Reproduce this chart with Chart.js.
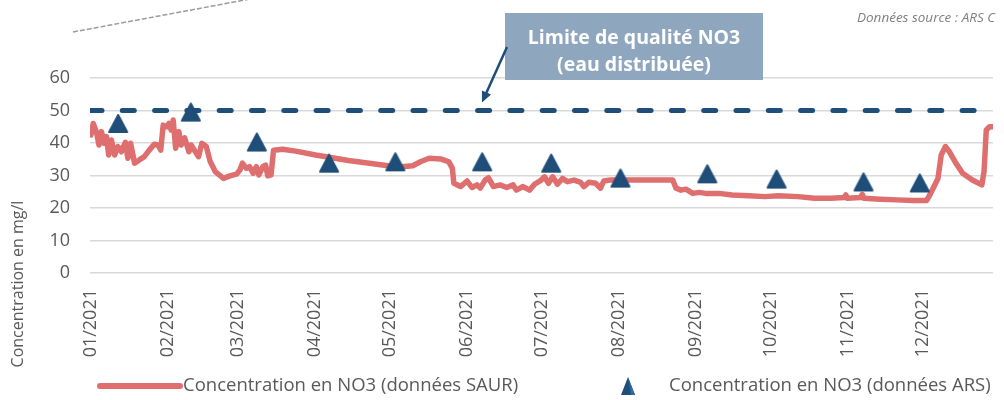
<!DOCTYPE html>
<html lang="fr">
<head>
<meta charset="utf-8">
<title>Concentration en NO3 - 2021</title>
<script src="https://cdn.jsdelivr.net/npm/chart.js@4.4.1/dist/chart.umd.min.js"></script>
<style>
  html, body { margin: 0; padding: 0; background: #fff; }
  #wrap { position: relative; width: 1004px; height: 400px; overflow: hidden; }
</style>
</head>
<body>
<div id="wrap"><canvas id="no3Chart" width="1004" height="400"></canvas></div>
<script>
// x = day of year 2021 (0 = 1st January)
const monthDays = [0, 31, 59, 90, 120, 151, 181, 212, 243, 273, 304, 334];
const monthLabels = ["01/2021", "02/2021", "03/2021", "04/2021", "05/2021", "06/2021",
                     "07/2021", "08/2021", "09/2021", "10/2021", "11/2021", "12/2021"];
const xMin = -0.4;
const xMax = 362.2;
const yMax = 60;
const yStep = 10;

const limitValue = 50;

// SAUR continuous measurements (mg/l)
const saurDays = [0, 0.9, 2.3, 3.2, 4.2, 5.3, 6.2, 7.1, 8.2, 9.5, 10.8, 12.2, 13.8, 14.8, 15.9,
  17.5, 19.4, 21.4, 23.4, 25.4, 27, 28, 29, 30.4, 31.3, 32.2, 33, 34, 35.3, 36.2, 37.6, 39.3,
  40.2, 41.9, 43.2, 44.5, 46.3, 47.9, 49.9, 53.2, 55.8, 58.4, 59.8, 60.8, 62.4, 63.7, 65.1,
  66.4, 67.4, 69, 70.1, 71, 72.3, 73.3, 77, 82.2, 90.2, 103.4, 119.3, 124.6, 129.2, 132.5,
  135.8, 140.4, 143.7, 145.1, 145.7, 148.4, 151, 153, 155, 156.3, 158.3, 159.6, 161.6, 164.2,
  166.9, 169.5, 170.8, 173.5, 176.1, 178.1, 180.8, 182.1, 183.7, 185.4, 187.3, 189.3, 191.3,
  194, 196.6, 197.9, 199.9, 202.6, 204.6, 205.9, 208.5, 233.6, 234.9, 236.9, 238.9, 241.6,
  244.2, 246.8, 252.2, 257.4, 264.1, 270.6, 276, 283.9, 290.5, 297.1, 302.4, 303.1, 303.7,
  309, 309.7, 310.3, 316.9, 323.6, 330.1, 335.5, 336.8, 340.1, 341.4, 343.1, 344.7, 347.3,
  350, 353.9, 357.7, 358.6, 359.5, 360.8, 362.2];
const saurValues = [42.5, 46, 43, 39.4, 43.5, 39.9, 42, 36.3, 40.9, 36.3, 38.9, 37.3, 40.2, 35.3, 39.9,
  33.8, 34.8, 35.8, 37.8, 39.6, 39.4, 37.8, 45.5, 45, 46, 44, 47.1, 38.4, 43.5, 39.4, 41.6, 37.3,
  39.4, 37.3, 35.8, 39.9, 38.9, 34.2, 31.2, 29.1, 29.9, 30.4, 31.7, 33.8, 32.2, 32.7, 30.7,
  32.7, 30.2, 32.7, 33.2, 29.9, 30.2, 37.8, 38.1, 37.5, 36.3, 34.6, 33, 32.7, 33, 34.3,
  35.3, 35.1, 34.2, 32.2, 27.6, 26.6, 28.3, 26.3, 27.1, 26.1, 28.6, 29.3, 26.6, 27.1,
  26.3, 27.1, 25.5, 26.6, 25.5, 27.3, 28.6, 29.6, 27.6, 29.6, 27.3, 29.1, 28.1,
  28.6, 27.9, 26.6, 27.9, 27.6, 26.1, 28.3, 28.6, 28.6, 26.1, 25.5, 25.8, 24.5,
  24.8, 24.5, 24.5, 24, 23.8, 23.5, 23.8, 23.5, 23, 23, 23.2, 24, 23,
  23.2, 24.2, 23, 22.7, 22.5, 22.3, 22.3, 24, 29.1, 36.3, 38.9, 37.3, 33.8,
  30.7, 28.6, 27.1, 31.2, 44, 45, 45];

// ARS samples (mg/l)
const arsDays = [10.9, 40.1, 66.6, 95.6, 122.2, 157.1, 184.8, 212.6, 247.5, 275.3, 310.2, 332.8];
const arsValues = [46, 49.5, 40.3, 33.8, 34.2, 34.2, 33.8, 29.2, 30.5, 28.9, 28.0, 27.7];

const saurColor = "#DF6F6F";
const arsColor = "#1F4E79";
const textColor = "#595959";

// triangle marker, drawn once and used as point style (centred on the value like Excel)
const triangleIcon = document.createElement("canvas");
triangleIcon.width = 22;
triangleIcon.height = 21;
(function () {
    const c = triangleIcon.getContext("2d");
    c.fillStyle = arsColor;
    c.strokeStyle = arsColor;
    c.lineWidth = 2;
    c.lineJoin = "round";
    c.beginPath();
    c.moveTo(11, 2);
    c.lineTo(2, 19);
    c.lineTo(20, 19);
    c.closePath();
    c.fill();
    c.stroke();
})();

const decorations = {
    id: "decorations",
    afterDraw(chart) {
        const ctx = chart.ctx;
        const xs = chart.scales.x;
        const ys = chart.scales.y;
        ctx.save();

        // grey dashed connector, top left
        ctx.strokeStyle = "#9c9c9c";
        ctx.lineWidth = 1.5;
        ctx.setLineDash([5, 2]);
        ctx.beginPath();
        ctx.moveTo(73, 32);
        ctx.lineTo(250, -1);
        ctx.stroke();
        ctx.setLineDash([]);

        // source
        ctx.font = "italic 13.5px 'Open Sans'";
        ctx.fillStyle = "#7f7f7f";
        ctx.textAlign = "left";
        ctx.textBaseline = "middle";
        ctx.fillText("Données source : ARS C", 857, 18);

        // quality limit label
        ctx.fillStyle = "#8EA7BE";
        ctx.fillRect(505, 13, 258, 67);
        ctx.fillStyle = "#ffffff";
        ctx.font = "bold 19.5px 'Open Sans'";
        ctx.textAlign = "center";
        ctx.fillText("Limite de qualité NO3", 634, 38);
        ctx.fillText("(eau distribuée)", 634, 65);

        // arrow pointing at the limit line
        const tipX = xs.getPixelForValue(157);
        const tipY = ys.getPixelForValue(limitValue) - 8;
        const fromX = 507, fromY = 47;
        const ang = Math.atan2(tipY - fromY, tipX - fromX);
        ctx.strokeStyle = arsColor;
        ctx.fillStyle = arsColor;
        ctx.lineWidth = 2.5;
        ctx.beginPath();
        ctx.moveTo(fromX, fromY);
        ctx.lineTo(tipX - Math.cos(ang) * 8, tipY - Math.sin(ang) * 8);
        ctx.stroke();
        ctx.beginPath();
        ctx.moveTo(tipX, tipY);
        ctx.lineTo(tipX - Math.cos(ang) * 11 + Math.sin(ang) * 5, tipY - Math.sin(ang) * 11 - Math.cos(ang) * 5);
        ctx.lineTo(tipX - Math.cos(ang) * 11 - Math.sin(ang) * 5, tipY - Math.sin(ang) * 11 + Math.cos(ang) * 5);
        ctx.closePath();
        ctx.fill();

        // y axis title
        ctx.save();
        ctx.translate(18, 284);
        ctx.rotate(-Math.PI / 2);
        ctx.font = "16px 'Open Sans'";
        ctx.fillStyle = textColor;
        ctx.textAlign = "center";
        ctx.textBaseline = "middle";
        ctx.fillText("Concentration en mg/l", 0, 0);
        ctx.restore();

        // legend
        const ly = 386;
        const saur = chart.data.datasets[2];
        const ars = chart.data.datasets[0];
        ctx.strokeStyle = saur.borderColor;
        ctx.lineWidth = 6;
        ctx.lineCap = "round";
        ctx.beginPath();
        ctx.moveTo(100, ly);
        ctx.lineTo(180, ly);
        ctx.stroke();

        ctx.fillStyle = arsColor;
        ctx.beginPath();
        ctx.moveTo(628, ly - 9);
        ctx.lineTo(621, ly + 9);
        ctx.lineTo(635, ly + 9);
        ctx.closePath();
        ctx.fill();
        ctx.fillStyle = "#2F6A9E";
        ctx.beginPath();
        ctx.moveTo(628, ly - 9);
        ctx.lineTo(635, ly + 9);
        ctx.lineTo(631, ly + 9);
        ctx.closePath();
        ctx.fill();

        ctx.font = "18.5px 'Open Sans'";
        ctx.fillStyle = textColor;
        ctx.textAlign = "left";
        ctx.textBaseline = "middle";
        ctx.fillText(saur.label, 183, ly);
        ctx.fillText(ars.label, 669, ly);

        ctx.restore();
    }
};

new Chart(document.getElementById("no3Chart"), {
    type: "line",
    data: {
        datasets: [
            {
                label: "Concentration en NO3 (données ARS)",
                data: arsDays.map((d, i) => ({ x: d, y: arsValues[i] })),
                showLine: false,
                pointStyle: triangleIcon,
                pointRadius: 10,
                pointBackgroundColor: arsColor,
                borderColor: arsColor,
                order: 0
            },
            {
                label: "Limite de qualité NO3",
                data: [{ x: xMin, y: limitValue }, { x: xMax, y: limitValue }],
                borderColor: arsColor,
                borderWidth: 5,
                borderDash: [12, 20.3],
                borderCapStyle: "round",
                pointRadius: 0,
                order: 1
            },
            {
                label: "Concentration en NO3 (données SAUR)",
                data: saurDays.map((d, i) => ({ x: d, y: saurValues[i] })),
                borderColor: saurColor,
                borderWidth: 5.5,
                borderJoinStyle: "round",
                borderCapStyle: "round",
                pointRadius: 0,
                tension: 0,
                order: 2
            }
        ]
    },
    options: {
        responsive: false,
        animation: false,
        devicePixelRatio: 1,
        layout: { padding: { top: 78, right: 0, bottom: 0, left: 0 } },
        plugins: {
            legend: { display: false },
            tooltip: { enabled: false }
        },
        scales: {
            x: {
                type: "linear",
                min: xMin,
                max: xMax,
                grid: { display: false },
                border: { display: false },
                afterBuildTicks: scale => {
                    scale.ticks = monthDays.map(v => ({ value: v }));
                },
                afterFit: scale => {
                    scale.height = 127;
                },
                ticks: {
                    autoSkip: false,
                    minRotation: 90,
                    maxRotation: 90,
                    padding: 8,
                    color: textColor,
                    font: { family: "Open Sans", size: 18 },
                    callback: (value, index) => monthLabels[index]
                }
            },
            y: {
                min: 0,
                max: yMax,
                afterFit: scale => {
                    scale.width = 90;
                },
                grid: { color: "#D9D9D9", lineWidth: 1.5, drawTicks: false },
                border: { display: false },
                ticks: {
                    stepSize: yStep,
                    padding: 20,
                    color: textColor,
                    font: { family: "Open Sans", size: 18 }
                }
            }
        }
    },
    plugins: [decorations]
});
</script>
</body>
</html>
